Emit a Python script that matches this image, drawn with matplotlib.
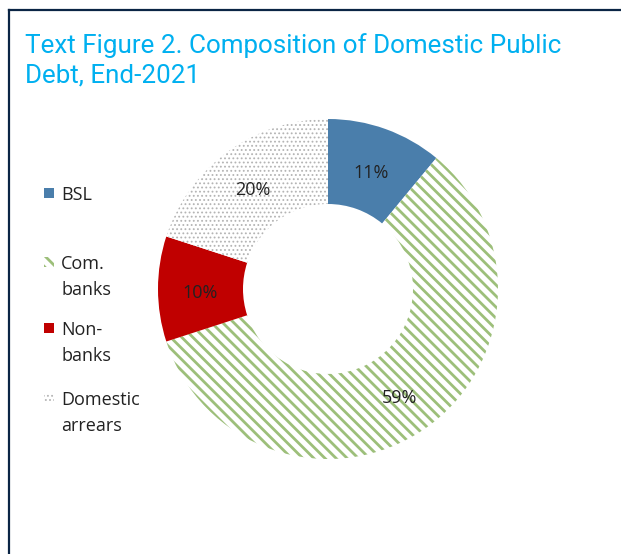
import matplotlib
matplotlib.use("Agg")
from matplotlib import pyplot as plt
from matplotlib.patches import Rectangle
import numpy as np

# composition of domestic public debt, end-2021 (percent)
categories = ["BSL", "Com.\nbanks", "Non-\nbanks", "Domestic\narrears"]
shares = [11, 59, 10, 20]
pct_labels = ["11%", "59%", "10%", "20%"]

fills = ["#4a7eab", "white", "#c00000", "white"]
hatch_cols = ["#4a7eab", "#9dbf7a", "#c00000", "#b4b4b4"]
hatches = [None, "\\\\\\", None, "...."]
hatch_lw = {"\\\\\\": 2.0, "....": 0.8}

W, H = 621, 554
fig = plt.figure(figsize=(W / 100, H / 100), dpi=100)
plt.rcParams["font.family"] = ["Open Sans", "DejaVu Sans"]

# frame lines (top and left only)
fig.add_artist(plt.Line2D([8.5 / W, 1], [1 - 10 / H, 1 - 10 / H], color="#0b2545", lw=1.6))
fig.add_artist(plt.Line2D([8.5 / W, 8.5 / W], [0, 1 - 10 / H], color="#0b2545", lw=1.6))

fig.text(25 / W, 1 - 46 / H, "Text Figure 2. Composition of Domestic Public",
         color="#00b0f0", fontsize=18.7, family="Roboto", va="center")
fig.text(25 / W, 1 - 76 / H, "Debt, End-2021",
         color="#00b0f0", fontsize=18.7, family="Roboto", va="center")

# donut centred at (328, 289) px, outer radius 170
cx, cy, half = 328, 289, 200
ax = fig.add_axes([(cx - half) / W, (H - cy - half) / H, 2 * half / W, 2 * half / H])

R, width = 170, 85
wedges, _ = ax.pie(shares, radius=R, startangle=90, counterclock=False,
                   wedgeprops=dict(width=width, linewidth=0))
for w, fc, hc, h in zip(wedges, fills, hatch_cols, hatches):
    w.set_facecolor(fc)
    w.set_edgecolor(hc)
    w.set_linewidth(0)
    if h:
        w.set_hatch(h)
        if hasattr(w, "set_hatch_linewidth"):
            w.set_hatch_linewidth(hatch_lw[h])

# pie() resets the limits, so set them afterwards
ax.set_xlim(-half, half)
ax.set_ylim(-half, half)
ax.set_aspect("equal")
ax.axis("off")

r_mid = R - width / 2
for w, lab in zip(wedges, pct_labels):
    ang = np.deg2rad((w.theta1 + w.theta2) / 2)
    ax.text(r_mid * np.cos(ang), r_mid * np.sin(ang) - 4, lab, ha="center",
            va="center", fontsize=13, color="#222222")

# legend, drawn by hand to keep the uneven spacing
entry_y = [193, 262, 328, 398]
for (y, lab, fc, hc, h) in zip(entry_y, categories, fills, hatch_cols, hatches):
    sq = Rectangle((44 / W, 1 - (y + 5) / H), 10 / W, 10 / H, transform=fig.transFigure,
                   facecolor=fc, edgecolor=hc, linewidth=0, hatch=h)
    if h and hasattr(sq, "set_hatch_linewidth"):
        sq.set_hatch_linewidth(hatch_lw[h])
    fig.add_artist(sq)
    fig.text(61 / W, 1 - (y - 7) / H, lab, fontsize=13, color="#222222",
             va="top", linespacing=1.6)

fig.savefig("out.png", dpi=100)
